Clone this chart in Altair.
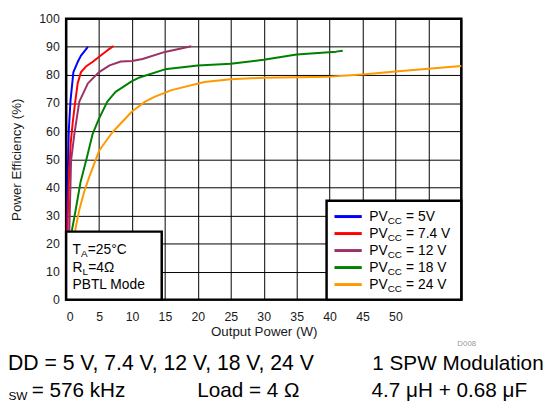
import altair as alt
import pandas as pd

# ---------------- data ----------------
series = ["PVCC = 5V", "PVCC = 7.4 V", "PVCC = 12 V", "PVCC = 18 V", "PVCC = 24 V"]
colors = ["#0000FF", "#FF0000", "#993366", "#008000", "#FF9900"]
widths = [2, 2, 3, 3, 3]

pv5_w = [0.05, 0.15, 0.25, 0.4, 0.65, 1.1, 1.75, 2.25, 2.8, 3.3]
pv5_e = [10, 30, 45, 60, 70.5, 81, 84.6, 86.9, 88.5, 90]

pv74_w = [0.1, 0.25, 0.45, 0.7, 1.0, 1.3, 1.75, 2.25, 3.0, 4.0, 5.25, 6.4, 7.2]
pv74_e = [10, 30, 45, 56, 63, 69, 77, 81, 83, 84.6, 86.9, 89, 90.3]

pv12_w = [0.3, 0.5, 0.75, 1.25, 2.0, 3.3, 5, 6.6, 8.3, 10, 11.6, 15, 19]
pv12_e = [10, 26, 49.5, 59, 70.5, 77, 81, 83.4, 84.8, 85, 85.7, 88.2, 90.2]

pv18_w = [0.6, 0.9, 1.3, 1.75, 2.2, 2.75, 3.3, 4, 5, 6.25, 7.5, 10, 11, 15, 20, 25, 30, 35, 41, 42]
pv18_e = [12, 25, 30, 36, 42, 47, 52, 58.8, 64.5, 70.5, 74, 77.8, 79, 82, 83.4, 84, 85.4, 87.3, 88.3, 88.6]

pv24_w = [1.2, 1.4, 2, 2.75, 3.5, 5, 7, 10, 12, 13.5, 16, 21, 25, 30, 35, 40, 45, 50, 55, 60]
pv24_e = [15, 25, 32, 38.5, 43.6, 53, 59.5, 67, 70.5, 72.3, 74.6, 77.5, 78.5, 79, 79.2, 79.4, 80.2, 81.2, 82.2, 83.2]

x_ticks = list(range(0, 61, 5))
y_ticks = list(range(0, 101, 10))

legend_main = ["PV", "PV", "PV", "PV", "PV"]
legend_sub = ["CC", "CC", "CC", "CC", "CC"]
legend_rest = ["= 5V", "= 7.4 V", "= 12 V", "= 18 V", "= 24 V"]

rows = []
for name, ws, es in zip(series,
                        [pv5_w, pv74_w, pv12_w, pv18_w, pv24_w],
                        [pv5_e, pv74_e, pv12_e, pv18_e, pv24_e]):
    for w, e in zip(ws, es):
        rows.append({"series": name, "w": w, "e": e})
df = pd.DataFrame(rows)

FONT = "Arial, Liberation Sans, sans-serif"
W, H = 401, 285

lines = alt.Chart(df).mark_line(strokeJoin="round").encode(
    x=alt.X("w:Q", scale=alt.Scale(domain=[0, 60], nice=False),
            axis=alt.Axis(values=x_ticks, title="Output Power (W)",
                          labelExpr="datum.value <= 50 ? datum.label : ''",
                          labelPadding=11, labelBaseline="top",
                          titleX=W / 2, titleY=36, titleBaseline="alphabetic")),
    y=alt.Y("e:Q", scale=alt.Scale(domain=[0, 100], nice=False),
            axis=alt.Axis(values=y_ticks, title="Power Efficiency (%)",
                          labelPadding=7,
                          titleX=-50, titleY=H / 2, titleAngle=270,
                          titleAlign="center", titleBaseline="middle")),
    color=alt.Color("series:N", scale=alt.Scale(domain=series, range=colors), legend=None),
    strokeWidth=alt.StrokeWidth("series:N", scale=alt.Scale(domain=series, range=widths), legend=None),
    detail="series:N",
)

one = pd.DataFrame({"a": [0]})


def box(x0, x1, y0, y1):
    return alt.Chart(one).mark_rect(fill="white", stroke="black", strokeWidth=2.5).encode(
        x=alt.value(x0), x2=alt.value(x1), y=alt.value(y0), y2=alt.value(y1))


def txt(s, x, y, size, color="black"):
    return alt.Chart(pd.DataFrame({"t": [s]})).mark_text(
        align="left", baseline="alphabetic", font=FONT, fontSize=size, color=color
    ).encode(text="t:N", x=alt.value(x), y=alt.value(y))


layers = [lines, box(0, 97, 216, 285), box(264.3, 401, 184.7, 285)]

# annotation box text
layers += [
    txt("T", 6.5, 239, 14), txt("A", 15, 242, 10), txt("=25°C", 22, 239, 14),
    txt("R", 6.5, 256.5, 14), txt("L", 16.6, 259.5, 10), txt("=4Ω", 22.5, 256.5, 14),
    txt("PBTL Mode", 6.5, 274, 14),
]

# legend
for i in range(len(series)):
    ry = 200.7 + 17.25 * i
    layers.append(alt.Chart(one).mark_rule(strokeWidth=3).encode(
        x=alt.value(272.3), x2=alt.value(300), y=alt.value(ry), color=alt.value(colors[i])))
    layers.append(txt(legend_main[i], 307.6, ry + 5, 14))
    layers.append(txt(legend_sub[i], 326.3, ry + 8, 10))
    layers.append(txt(legend_rest[i], 345, ry + 5, 14))

# texts below the chart
layers += [
    txt("D008", 397, 332, 8, color="#999999"),
    txt("DD = 5 V, 7.4 V, 12 V, 18 V, 24 V", -59, 356, 21.5),
    txt("1 SPW Modulation", 310.7, 356, 21),
    txt("SW", -58.5, 387, 12),
    txt("= 576 kHz", -35, 384, 21),
    txt("Load = 4 Ω", 133, 384, 21),
    txt("4.7 μH + 0.68 μF", 310, 384, 21),
]

chart = alt.layer(*layers).properties(
    width=W, height=H,
    autosize=alt.AutoSizeParams(type="none"),
    padding={"left": 59, "top": 8, "right": 88, "bottom": 105},
).configure_view(
    stroke="black", strokeWidth=2.5
).configure_axis(
    grid=True, gridColor="black", gridOpacity=1, gridWidth=1,
    domain=False, ticks=False, tickSize=0,
    labelFont=FONT, labelFontSize=12.5, labelColor="#1a1a1a",
    titleFont=FONT, titleFontSize=13.5, titleFontWeight="normal", titleColor="#1a1a1a",
)

chart.save("out.html", embed_options={"renderer": "svg", "actions": False})
